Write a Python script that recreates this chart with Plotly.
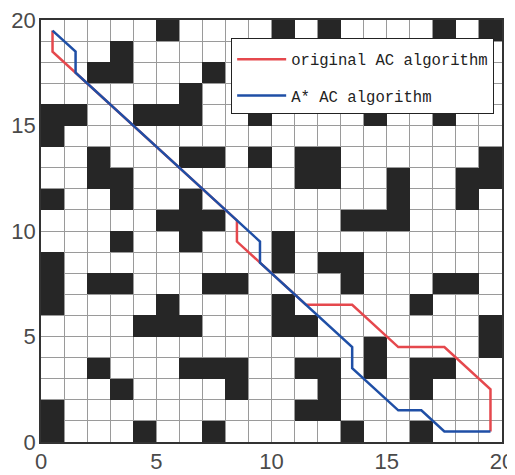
import plotly.graph_objects as go

# Grid size and obstacle cells (column indices per row, row 0 = top row y in [19,20])
n = 20
obstacle_rows = {
    0: [5, 10, 12, 17, 19],
    1: [3],
    2: [2, 3, 7],
    3: [6],
    4: [0, 1, 4, 5, 6, 9, 14, 17],
    5: [0],
    6: [2, 6, 7, 9, 11, 12, 19],
    7: [2, 3, 11, 12, 15, 18, 19],
    8: [0, 3, 6, 15, 18],
    9: [5, 6, 7, 13, 14, 15],
    10: [3, 6, 10],
    11: [0, 10, 12, 13],
    12: [0, 2, 3, 7, 8, 13, 17, 18],
    13: [0, 5, 10, 16],
    14: [4, 5, 6, 10, 11, 19],
    15: [14, 19],
    16: [2, 6, 7, 8, 11, 12, 14, 16, 17],
    17: [3, 8, 12, 16],
    18: [0, 11, 12],
    19: [0, 4, 7, 13, 16],
}

# Paths
red_x = [0.5, 0.5, 1.5, 8.5, 8.5, 9.5, 11.5, 13.5, 15.5, 17.5, 19.5, 19.5]
red_y = [19.5, 18.5, 17.5, 10.5, 9.5, 8.5, 6.5, 6.5, 4.5, 4.5, 2.5, 0.5]
blue_x = [0.5, 1.5, 1.5, 9.5, 9.5, 13.5, 13.5, 15.5, 16.5, 17.5, 19.5]
blue_y = [19.5, 18.5, 17.5, 9.5, 8.5, 4.5, 3.5, 1.5, 1.5, 0.5, 0.5]

tick_vals = [0, 5, 10, 15, 20]
tick_text = ["0", "5", "10", "15", "20"]

centers = [i + 0.5 for i in range(n)]
z = [[None] * n for _ in range(n)]
for r, cols in obstacle_rows.items():
    yi = n - 1 - r
    for c in cols:
        z[yi][c] = 1

fig = go.Figure()
fig.add_trace(go.Heatmap(
    x=centers, y=centers, z=z,
    colorscale=[[0, "#262626"], [1, "#262626"]],
    showscale=False, hoverinfo="skip", zmin=0, zmax=1,
))
fig.add_trace(go.Scatter(
    x=red_x, y=red_y, mode="lines", name="original AC algorithm",
    line=dict(color="#e5484d", width=2.5), legendgroup="a",
))
fig.add_trace(go.Scatter(
    x=blue_x, y=blue_y, mode="lines", name="A* AC algorithm",
    line=dict(color="#1f4fa6", width=2.5), legendgroup="b",
))

axis_common = dict(
    range=[0, n], tickvals=tick_vals, ticktext=tick_text,
    showgrid=True, gridcolor="#9a9a9a", gridwidth=1,
    minor=dict(dtick=1, showgrid=True, gridcolor="#9a9a9a", gridwidth=1),
    zeroline=False, showline=True, mirror=True, linecolor="#333333", linewidth=1.5,
    ticks="", tickfont=dict(family="Liberation Sans", size=22, color="#4a4a4a"),
    fixedrange=True, automargin=False, ticklabeloverflow="allow",
)

# The page body adds an 8px offset, so the figure is 8px smaller than the window.
fig.update_layout(
    width=507, height=467,
    margin=dict(l=33, r=13, t=12, b=33),
    paper_bgcolor="white", plot_bgcolor="white",
    xaxis=dict(**axis_common, ticklabelstandoff=-1),
    yaxis=dict(**axis_common, ticklabelstandoff=-1),
    legend=dict(
        x=0.983, y=0.958, xanchor="right", yanchor="top",
        bgcolor="white", bordercolor="#222222", borderwidth=1,
        font=dict(family="Liberation Mono", size=15.6, color="#222222"),
        tracegroupgap=13, itemwidth=49,
        title=dict(text=" ", font=dict(size=3)),
    ),
    showlegend=True,
)

fig.write_html("out.html")
